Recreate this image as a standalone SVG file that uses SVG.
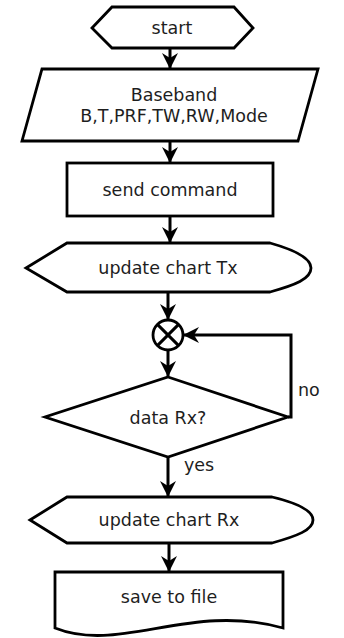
<svg xmlns="http://www.w3.org/2000/svg" width="344" height="638" viewBox="0 0 344 638">
<defs>
<marker id="ah" markerWidth="18" markerHeight="16" refX="15" refY="8" orient="auto" markerUnits="userSpaceOnUse">
<path d="M0,0 L16,8 L0,16 L5,8 Z" fill="#000"/>
</marker>
<style>
.s{fill:#fff;stroke:#000;stroke-width:2.8;stroke-linejoin:miter}
.c{fill:none;stroke:#000;stroke-width:3}
.t{font-family:"DejaVu Sans",Verdana,sans-serif;font-size:17.5px;fill:#1e1e1e;text-anchor:middle;dominant-baseline:central}
.l{font-family:"DejaVu Sans",Verdana,sans-serif;font-size:17.5px;fill:#1e1e1e}
</style>
</defs>
<g id="connectors">
<line class="c" x1="170" y1="48" x2="170" y2="68" marker-end="url(#ah)"/>
<line class="c" x1="170" y1="141" x2="170" y2="162" marker-end="url(#ah)"/>
<line class="c" x1="170" y1="216" x2="170" y2="242" marker-end="url(#ah)"/>
<line class="c" x1="168" y1="292" x2="168" y2="319" marker-end="url(#ah)"/>
<line class="c" x1="168" y1="350" x2="168" y2="376" marker-end="url(#ah)"/>
<polyline class="c" points="288,417 291,417 291,335 184,335" marker-end="url(#ah)"/>
<line class="c" x1="168" y1="457" x2="168" y2="496" marker-end="url(#ah)"/>
<line class="c" x1="169" y1="543" x2="169" y2="571" marker-end="url(#ah)"/>
<text class="l" x="298" y="396">no</text>
<text class="l" x="184" y="471">yes</text>
</g>
<g id="start">
<polygon class="s" points="92,28 112,7 234,7 253,28 234,48 112,48"/>
<text class="t" x="172" y="28">start</text>
</g>
<g id="baseband">
<polygon class="s" points="42,69 318,69 298,141 22,141"/>
<text class="t" x="174" y="95">Baseband</text>
<text class="t" x="174" y="116">B,T,PRF,TW,RW,Mode</text>
</g>
<g id="send">
<rect class="s" x="67" y="163" width="206" height="53"/>
<text class="t" x="170" y="190">send command</text>
</g>
<g id="tx">
<path class="s" d="M26,268 L67,243 L270,243 C295,250 311,258 311,268 C311,279 295,285 270,292 L67,292 Z"/>
<text class="t" x="168" y="268">update chart Tx</text>
</g>
<g id="merge">
<circle class="s" cx="168" cy="335" r="15"/>
<line class="c" x1="157.4" y1="324.4" x2="178.6" y2="345.6"/>
<line class="c" x1="178.6" y1="324.4" x2="157.4" y2="345.6"/>
</g>
<g id="decision">
<polygon class="s" points="168,377 288,417 168,457 45,417"/>
<text class="t" x="168" y="418">data Rx?</text>
</g>
<g id="rx">
<path class="s" d="M30,520 L67,497 L272,497 C297,503 313,511 313,520 C313,530 297,536 272,543 L67,543 Z"/>
<text class="t" x="169" y="520">update chart Rx</text>
</g>
<g id="save">
<path class="s" d="M55,572 L283,572 L283,628 C190,602 120,654 55,628 Z"/>
<text class="t" x="169" y="597">save to file</text>
</g>
</svg>
